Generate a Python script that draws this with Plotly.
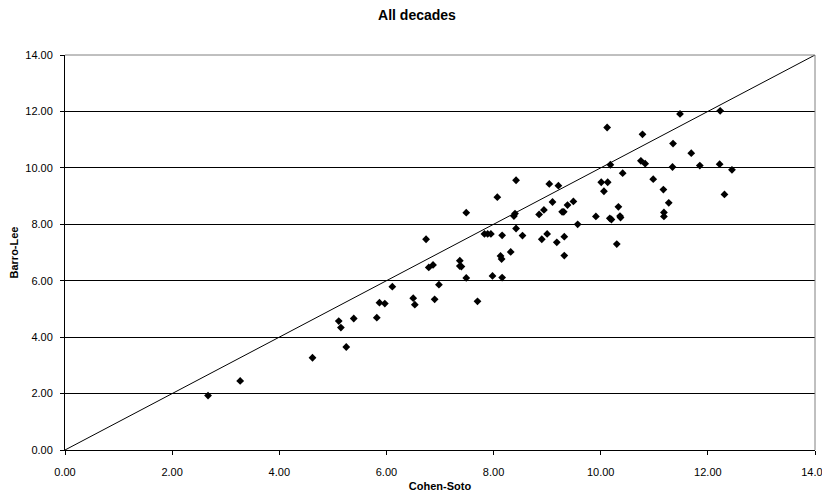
import plotly.graph_objects as go

# Cohen-Soto (x) vs Barro-Lee (y)
cohen_soto = [2.67, 3.27, 4.62, 5.11, 5.15, 5.25, 5.39, 5.82, 5.87, 5.97,
              6.11, 6.50, 6.53, 6.74, 6.79, 6.87, 6.90, 6.98, 7.37, 7.37,
              7.40, 7.49, 7.49, 7.70, 7.83, 7.89, 7.95, 7.98, 8.07, 8.13,
              8.15, 8.16, 8.16, 8.32, 8.38, 8.40, 8.42, 8.42, 8.54, 8.85,
              8.90, 8.94, 9.00, 9.04, 9.10, 9.18, 9.21, 9.28, 9.31, 9.32,
              9.32, 9.38, 9.49, 9.57, 9.91, 10.01, 10.06, 10.12, 10.13, 10.17,
              10.18, 10.20, 10.30, 10.33, 10.36, 10.37, 10.41, 10.75, 10.78, 10.83,
              10.98, 11.17, 11.18, 11.18, 11.27, 11.34, 11.35, 11.48, 11.69, 11.85,
              12.22, 12.23, 12.31, 12.45]
barro_lee = [1.93, 2.45, 3.27, 4.57, 4.34, 3.65, 4.66, 4.69, 5.22, 5.19,
             5.79, 5.38, 5.15, 7.47, 6.47, 6.56, 5.34, 5.86, 6.71, 6.52,
             6.50, 8.41, 6.10, 5.27, 7.66, 7.66, 7.66, 6.17, 8.96, 6.88,
             6.77, 7.61, 6.11, 7.02, 8.29, 8.38, 9.56, 7.85, 7.60, 8.35,
             7.47, 8.51, 7.66, 9.43, 8.79, 7.36, 9.37, 8.44, 8.44, 7.56,
             6.89, 8.68, 8.81, 8.00, 8.28, 9.49, 9.17, 11.43, 9.49, 8.21,
             10.11, 8.17, 7.30, 8.62, 8.29, 8.24, 9.81, 10.25, 11.19, 10.15,
             9.60, 9.23, 8.42, 8.28, 8.76, 10.03, 10.86, 11.91, 10.52, 10.08,
             10.13, 12.02, 9.06, 9.93]

# 45-degree reference line
line_x = [0, 14]
line_y = [0, 14]

tick_vals = [0, 2, 4, 6, 8, 10, 12, 14]
tick_text = ["0.00", "2.00", "4.00", "6.00", "8.00", "10.00", "12.00", "14.00"]

FONT = "Liberation Sans, Arial, sans-serif"

fig = go.Figure()
fig.add_trace(go.Scatter(
    x=line_x, y=line_y, mode="lines",
    line=dict(color="black", width=1), hoverinfo="skip", showlegend=False))
fig.add_trace(go.Scatter(
    x=cohen_soto, y=barro_lee, mode="markers",
    marker=dict(symbol="diamond", size=6, color="black", line=dict(width=0)),
    showlegend=False))

axis_common = dict(
    range=[0, 14], tickvals=tick_vals, ticktext=tick_text,
    zeroline=False, automargin=False,
    showline=True, linecolor="black", linewidth=1,
    ticks="outside", ticklen=4, tickcolor="black",
    tickfont=dict(family=FONT, size=11, color="black"),
)

fig.update_layout(
    width=830, height=484,
    margin=dict(l=57, r=23, t=47, b=42),
    paper_bgcolor="white", plot_bgcolor="white",
    title=dict(text="<b>All decades</b>", x=409 / 830, xanchor="center",
               y=1 - 7 / 484, yanchor="middle",
               font=dict(family=FONT, size=14, color="black")),
    xaxis=dict(**axis_common, showgrid=False, ticklabelstandoff=8,
               title=dict(text="<b>Cohen-Soto</b>", standoff=5,
                          font=dict(family=FONT, size=11, color="black"))),
    yaxis=dict(**axis_common, showgrid=True, gridcolor="black", gridwidth=1,
               ticklabelstandoff=5,
               title=dict(text="<b>Barro-Lee</b>", standoff=4,
                          font=dict(family=FONT, size=11, color="black"))),
    shapes=[
        dict(type="line", xref="paper", yref="paper", x0=0, x1=1, y0=1, y1=1,
             line=dict(color="#808080", width=1)),
        dict(type="line", xref="paper", yref="paper", x0=1, x1=1, y0=0, y1=1,
             line=dict(color="#808080", width=1)),
    ],
)

fig.write_html("out.html")
